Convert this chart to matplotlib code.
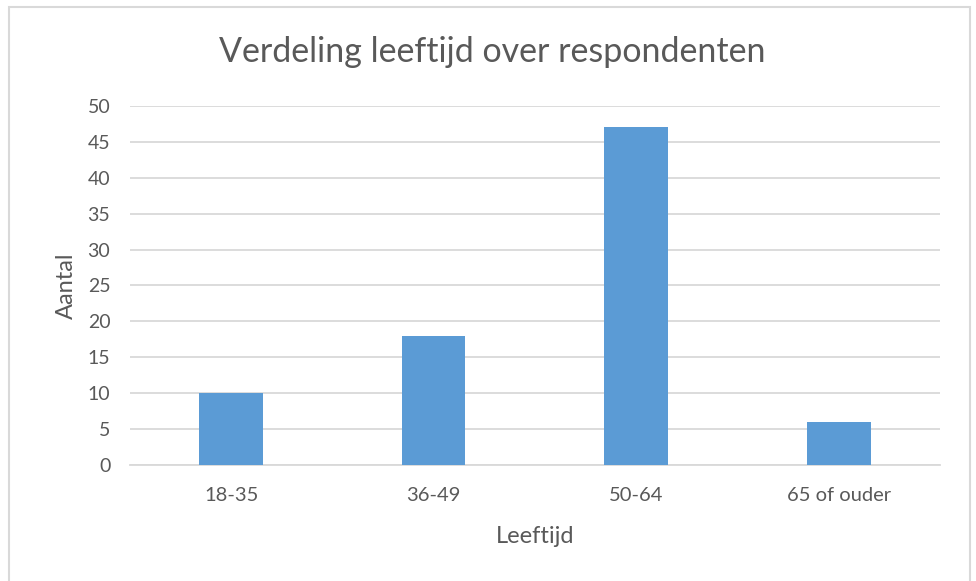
import matplotlib.pyplot as plt
from matplotlib.patches import Rectangle

# data
categories = ['18-35', '36-49', '50-64', '65 of ouder']
counts = [10, 18, 47, 6]

plt.rcParams['font.family'] = ['Lato', 'DejaVu Sans']
text_color = '#595959'

fig = plt.figure(figsize=(9.76, 5.81), dpi=100)
ax = fig.add_axes([0.133, 0.1997, 0.83, 0.618])

ax.bar(categories, counts, width=0.315, color='#5B9BD5', zorder=3)

ax.set_ylim(0, 50)
ax.set_yticks(range(0, 51, 5))
ax.set_xlim(-0.5, 3.5)
ax.grid(axis='y', color='#D9D9D9', linewidth=1.3, zorder=0)
for s in ['top', 'right', 'left']:
    ax.spines[s].set_visible(False)
ax.spines['bottom'].set_color('#D9D9D9')
ax.spines['bottom'].set_linewidth(1.3)
ax.tick_params(axis='y', length=0, labelsize=14, labelcolor=text_color, pad=14)
ax.tick_params(axis='x', length=0, labelsize=14.5, labelcolor=text_color, pad=16)

ax.set_xlabel('Leeftijd', fontsize=17, color=text_color, labelpad=16)
ax.set_ylabel('Aantal', fontsize=17, color=text_color, labelpad=8)
fig.text(0.504, 0.91, 'Verdeling leeftijd over respondenten', ha='center', va='center',
         fontsize=24.5, color=text_color)

# chart border
fig.patches.append(Rectangle((9 / 976, -0.01), 961 / 976, 1 - 7 / 581 + 0.01,
                             transform=fig.transFigure, fill=False,
                             edgecolor='#D9D9D9', linewidth=1.5))

fig.savefig('out.png', dpi=100)
